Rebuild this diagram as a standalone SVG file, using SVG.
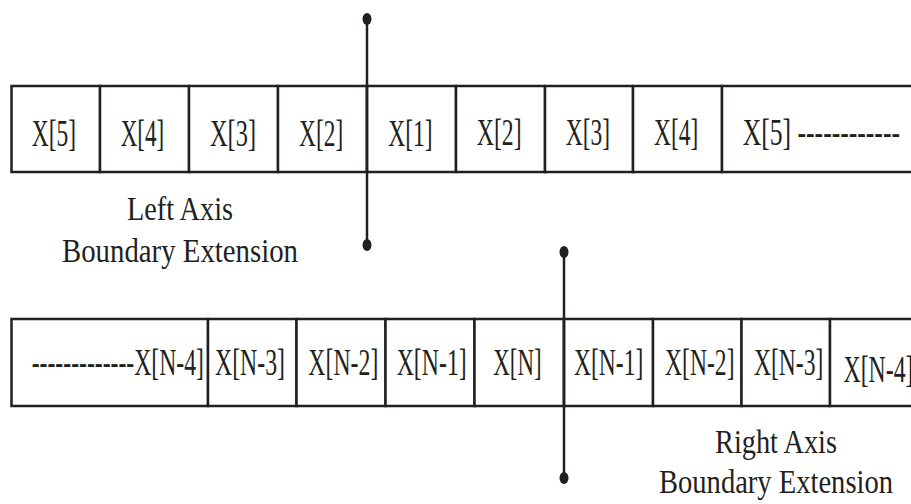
<svg xmlns="http://www.w3.org/2000/svg" width="911" height="504" viewBox="0 0 911 504">
<style>
.cell{fill:#ffffff;stroke:#231f20;stroke-width:2.5}
.t{font-family:"Liberation Serif","Times New Roman",serif;font-size:37px;fill:#231f20}
.lbl{font-family:"Liberation Serif","Times New Roman",serif;font-size:34px;fill:#231f20}
.axis{stroke:#231f20;stroke-width:2.5;fill:none}
.dot{fill:#231f20}
</style>
<rect x="0" y="0" width="911" height="504" fill="#ffffff"/>
<g id="row-top">
<g id="t1"><rect class="cell" x="11.5" y="86" width="88.5" height="86"/><text class="t" x="31.7" y="146" textLength="44.3" lengthAdjust="spacingAndGlyphs">X[5]</text></g>
<g id="t2"><rect class="cell" x="100" y="86" width="89" height="86"/><text class="t" x="120.7" y="146" textLength="43.6" lengthAdjust="spacingAndGlyphs">X[4]</text></g>
<g id="t3"><rect class="cell" x="189" y="86" width="89" height="86"/><text class="t" x="210" y="146" textLength="46" lengthAdjust="spacingAndGlyphs">X[3]</text></g>
<g id="t4"><rect class="cell" x="278" y="86" width="89" height="86"/><text class="t" x="299" y="146" textLength="44.3" lengthAdjust="spacingAndGlyphs">X[2]</text></g>
<g id="t5"><rect class="cell" x="367" y="86" width="89" height="86"/><text class="t" x="388.3" y="146" textLength="44.4" lengthAdjust="spacingAndGlyphs">X[1]</text></g>
<g id="t6"><rect class="cell" x="456" y="86" width="89" height="86"/><text class="t" x="476.7" y="144.5" textLength="45" lengthAdjust="spacingAndGlyphs">X[2]</text></g>
<g id="t7"><rect class="cell" x="545" y="86" width="88" height="86"/><text class="t" x="565.7" y="144.5" textLength="44.3" lengthAdjust="spacingAndGlyphs">X[3]</text></g>
<g id="t8"><rect class="cell" x="633" y="86" width="89" height="86"/><text class="t" x="654" y="144.5" textLength="44.3" lengthAdjust="spacingAndGlyphs">X[4]</text></g>
<g id="t9"><rect class="cell" x="722" y="86" width="200" height="86"/><text class="t" x="742.7" y="144.5" textLength="157.3" lengthAdjust="spacingAndGlyphs">X[5] ------------</text></g>
</g>
<g id="row-bottom">
<g id="b1"><rect class="cell" x="11.5" y="319" width="196.5" height="87"/><text class="t" x="31.7" y="375" textLength="172.3" lengthAdjust="spacingAndGlyphs">-------------X[N-4]</text></g>
<g id="b2"><rect class="cell" x="208" y="319" width="88.5" height="87"/><text class="t" x="215" y="375" textLength="70" lengthAdjust="spacingAndGlyphs">X[N-3]</text></g>
<g id="b3"><rect class="cell" x="296.5" y="319" width="89" height="87"/><text class="t" x="308.3" y="375" textLength="70" lengthAdjust="spacingAndGlyphs">X[N-2]</text></g>
<g id="b4"><rect class="cell" x="385.5" y="319" width="89" height="87"/><text class="t" x="396.7" y="375" textLength="70" lengthAdjust="spacingAndGlyphs">X[N-1]</text></g>
<g id="b5"><rect class="cell" x="474.5" y="319" width="89.5" height="87"/><text class="t" x="493.3" y="375" textLength="48.4" lengthAdjust="spacingAndGlyphs">X[N]</text></g>
<g id="b6"><rect class="cell" x="564" y="319" width="89" height="87"/><text class="t" x="574" y="375" textLength="69.3" lengthAdjust="spacingAndGlyphs">X[N-1]</text></g>
<g id="b7"><rect class="cell" x="653" y="319" width="88.5" height="87"/><text class="t" x="665" y="375" textLength="69.5" lengthAdjust="spacingAndGlyphs">X[N-2]</text></g>
<g id="b8"><rect class="cell" x="741.5" y="319" width="88.5" height="87"/><text class="t" x="754" y="375" textLength="69.3" lengthAdjust="spacingAndGlyphs">X[N-3]</text></g>
<g id="b9"><rect class="cell" x="830" y="319" width="100" height="87"/><text class="t" x="843.5" y="381.5" textLength="70" lengthAdjust="spacingAndGlyphs">X[N-4]</text></g>
</g>
<g id="connectors">
<line class="axis" x1="367" y1="19" x2="367" y2="245"/>
<ellipse class="dot" cx="367" cy="19" rx="4.5" ry="6"/>
<ellipse class="dot" cx="367" cy="245" rx="4.5" ry="6"/>
<line class="axis" x1="564" y1="252" x2="564" y2="478"/>
<ellipse class="dot" cx="564" cy="252" rx="4.5" ry="6"/>
<ellipse class="dot" cx="564" cy="478" rx="4.5" ry="6"/>
</g>
<g id="label-left">
<text class="lbl" x="127" y="220" textLength="106" lengthAdjust="spacingAndGlyphs">Left Axis</text>
<text class="lbl" x="62" y="262" textLength="236" lengthAdjust="spacingAndGlyphs">Boundary Extension</text>
</g>
<g id="label-right">
<text class="lbl" x="715" y="453" textLength="122" lengthAdjust="spacingAndGlyphs">Right Axis</text>
<text class="lbl" x="659" y="493" textLength="234" lengthAdjust="spacingAndGlyphs">Boundary Extension</text>
</g>
</svg>
